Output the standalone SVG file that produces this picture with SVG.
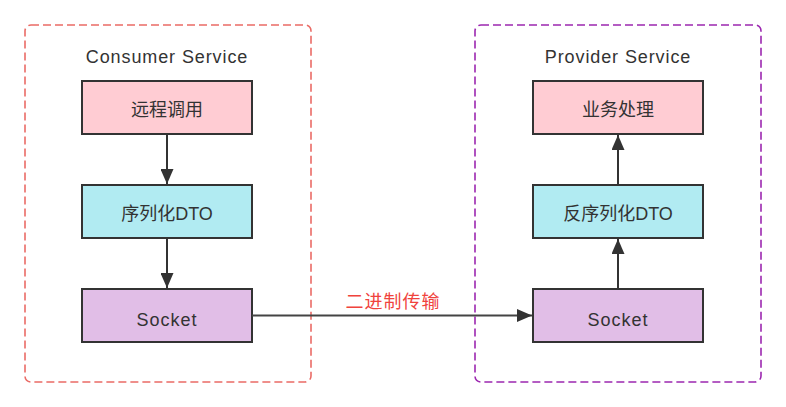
<svg xmlns="http://www.w3.org/2000/svg" width="786" height="407" viewBox="0 0 786 407">
<defs>
<style>
.cont{fill:none;stroke-width:1.6;stroke-dasharray:8 4}
.box{stroke:#333;stroke-width:2}
.t{font-family:"Liberation Sans","Noto Sans CJK SC",sans-serif;font-size:18px;fill:#333;text-anchor:middle}
.title{font-family:"Liberation Sans",sans-serif;font-size:18px;fill:#333;text-anchor:middle;letter-spacing:0.9px}
.edge{stroke:#333;stroke-width:2;fill:none}
</style>
<marker id="arr" viewBox="0 0 15 13" refX="15" refY="6.5" markerWidth="15" markerHeight="13" markerUnits="userSpaceOnUse" orient="auto">
<path d="M0,0 L15,6.5 L0,13 z" fill="#333"/>
</marker>
</defs>
<rect width="786" height="407" fill="#fff"/>
<g id="consumer">
<rect class="cont" x="25" y="25" width="286" height="357" rx="6" stroke="#EA6B66"/>
<text class="title" x="167" y="63">Consumer Service</text>
</g>
<g id="provider">
<rect class="cont" x="475" y="25" width="286" height="357" rx="6" stroke="#9C27B0"/>
<text class="title" x="618" y="63">Provider Service</text>
</g>
<g id="c-remote">
<rect class="box" x="82" y="81" width="170" height="53" fill="#FFCCD3"/>
<text class="t" x="167" y="116">远程调用</text>
</g>
<g id="c-serialize">
<rect class="box" x="82" y="185" width="170" height="53" fill="#B1EBF2"/>
<text class="t" x="167" y="220">序列化DTO</text>
</g>
<g id="c-socket">
<rect class="box" x="82" y="289" width="170" height="53" fill="#E1BEE7"/>
<text class="t" x="167" y="326" style="letter-spacing:1px">Socket</text>
</g>
<g id="p-business">
<rect class="box" x="533" y="81" width="170" height="53" fill="#FFCCD3"/>
<text class="t" x="618" y="116">业务处理</text>
</g>
<g id="p-deserialize">
<rect class="box" x="533" y="185" width="170" height="53" fill="#B1EBF2"/>
<text class="t" x="618" y="220">反序列化DTO</text>
</g>
<g id="p-socket">
<rect class="box" x="533" y="289" width="170" height="53" fill="#E1BEE7"/>
<text class="t" x="618" y="326" style="letter-spacing:1px">Socket</text>
</g>
<g id="connectors">
<line class="edge" x1="167" y1="134" x2="167" y2="184" marker-end="url(#arr)"/>
<line class="edge" x1="167" y1="238" x2="167" y2="288" marker-end="url(#arr)"/>
<line class="edge" x1="618" y1="289" x2="618" y2="239" marker-end="url(#arr)"/>
<line class="edge" x1="618" y1="185" x2="618" y2="135" marker-end="url(#arr)"/>
<line class="edge" x1="252" y1="315.5" x2="532" y2="315.5" stroke-width="1.6" style="stroke:#444" marker-end="url(#arr)"/>
<text x="393" y="308" style="font-family:'Noto Sans CJK SC',sans-serif;font-size:18px;fill:#F0433D;text-anchor:middle;letter-spacing:1px">二进制传输</text>
</g>
</svg>
